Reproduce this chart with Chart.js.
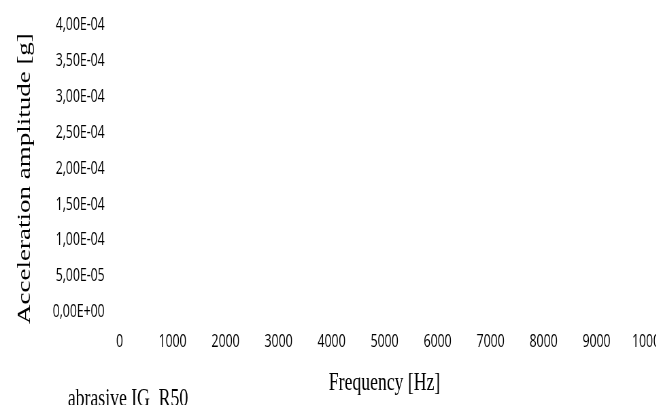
<!DOCTYPE html>
<html>
<head>
<meta charset="utf-8">
<script src="https://cdn.jsdelivr.net/npm/chart.js@4.4.1/dist/chart.umd.min.js"></script>
<style>
  html, body { margin: 0; padding: 0; background: #fff; overflow: hidden; }
  #wrap { width: 656px; height: 405px; overflow: hidden; position: relative; }
  /* the source picture is squeezed horizontally, so draw wide and squash */
  #chart { position: absolute; left: 0; top: 0; transform: scaleX(0.68); transform-origin: 0 0; }
</style>
</head>
<body>
<div id="wrap"><canvas id="chart" width="1000" height="420" style="width:1000px;height:420px"></canvas></div>
<script>
// Series: the plot in the source has no visible points
const seriesName = "abrasive IG_R50";
const frequencyHz = [];
const amplitudeG = [];

const xTickLabels = ["0", "1000", "2000", "3000", "4000", "5000", "6000", "7000", "8000", "9000", "10000"];
const yTickLabels = ["0,00E+00", "5,00E-05", "1,00E-04", "1,50E-04", "2,00E-04", "2,50E-04", "3,00E-04", "3,50E-04", "4,00E-04"];

const sans = "'Open Sans', 'Liberation Sans', sans-serif";
const serif = "'Liberation Serif', 'Times New Roman', serif";

// draws the series name below the plot, like the source legend
const seriesLabel = {
    id: "seriesLabel",
    afterDraw(chart) {
        const { ctx, chartArea } = chart;
        ctx.save();
        ctx.font = "26px " + serif;
        ctx.fillStyle = "#000";
        ctx.textBaseline = "alphabetic";
        ctx.textAlign = "left";
        ctx.fillText(chart.data.datasets[0].label, chartArea.left - 76, 406);
        ctx.restore();
    },
};

const points = frequencyHz.map((f, i) => ({ x: f, y: amplitudeG[i] }));

new Chart(document.getElementById("chart").getContext("2d"), {
    type: "scatter",
    data: {
        datasets: [{
            label: seriesName,
            data: points,
            showLine: true,
            borderColor: "#1f4e9c",
            backgroundColor: "#1f4e9c",
            borderWidth: 1,
            pointRadius: 0,
        }],
    },
    options: {
        responsive: false,
        devicePixelRatio: 1,
        animation: false,
        layout: { padding: { top: 4, right: 0, bottom: 21, left: 0 } },
        plugins: {
            legend: { display: false },
            tooltip: { enabled: false },
        },
        scales: {
            x: {
                type: "linear",
                min: 0,
                max: 10000,
                grid: { display: false, drawTicks: false },
                border: { display: false },
                ticks: {
                    stepSize: 1000,
                    padding: 19,
                    maxRotation: 0,
                    color: "#000",
                    font: { family: sans, size: 18 },
                    callback: (v, i) => xTickLabels[i],
                },
                title: {
                    display: true,
                    text: "Frequency [Hz]",
                    color: "#000",
                    font: { family: serif, size: 26 },
                    padding: { top: -4, bottom: 0 },
                },
            },
            y: {
                type: "linear",
                min: 0,
                max: 0.0004,
                grid: { display: false, drawTicks: false },
                border: { display: false },
                ticks: {
                    stepSize: 0.00005,
                    padding: 22,
                    color: "#000",
                    // small line height keeps the top label from pushing the plot down
                    font: { family: sans, size: 18, lineHeight: 0.3 },
                    callback: (v, i) => yTickLabels[i],
                },
                title: {
                    display: true,
                    // trailing spaces nudge the rotated title down, as in the source
                    text: "Acceleration amplitude [g]   ",
                    color: "#000",
                    font: { family: serif, size: 27 },
                    padding: { top: 21, bottom: 2 },
                },
            },
        },
    },
    plugins: [seriesLabel],
});
</script>
</body>
</html>
